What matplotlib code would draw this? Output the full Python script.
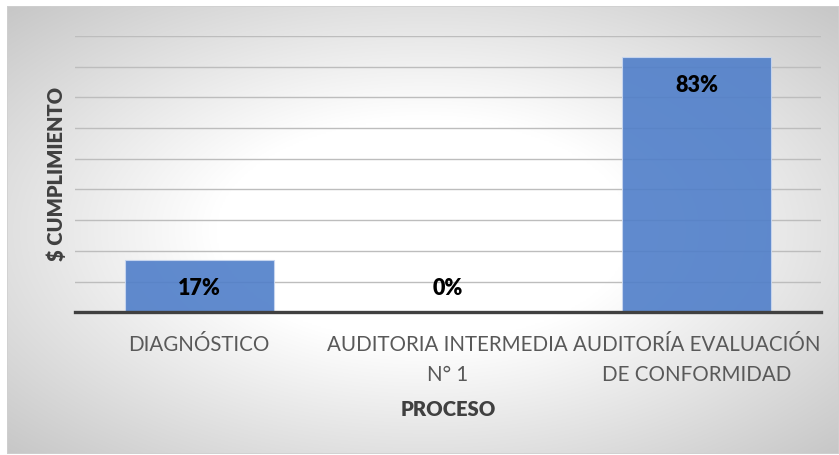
import numpy as np
import matplotlib
matplotlib.use("Agg")
import matplotlib.pyplot as plt
from matplotlib.patches import Rectangle

# Data
categories = ["DIAGNÓSTICO", "AUDITORIA INTERMEDIA\nN° 1", "AUDITORÍA EVALUACIÓN\nDE CONFORMIDAD"]
values = [0.17, 0.0, 0.83]
labels = ["17%", "0%", "83%"]

plt.rcParams['font.family'] = ['Lato', 'DejaVu Sans']

W, H, DPI = 839, 455, 100
fig = plt.figure(figsize=(W / DPI, H / DPI), dpi=DPI)
fig.patch.set_facecolor('white')

# Chart area with radial gradient
bg = fig.add_axes([7 / W, 1 / H, 1 - 7 / W, 448 / H])
bg.set_axis_off()
ny, nx = 300, 560
yy, xx = np.mgrid[0:ny, 0:nx]
d = np.sqrt(((xx - nx / 2) / (nx / 2)) ** 2 + ((yy - ny / 2) / (ny / 2)) ** 2)
shade = 1 - 0.22 * np.clip((d - 0.5) / 0.91, 0, 1)
bg.imshow(np.dstack([shade] * 3), aspect='auto', extent=[0, 1, 0, 1], interpolation='bilinear')
bg.add_patch(Rectangle((0, 0), 1, 1, transform=bg.transAxes, fill=False,
                       edgecolor='#d0d0d0', lw=1.2))
bg.set_xlim(0, 1)
bg.set_ylim(0, 1)

# Plot area
ax = fig.add_axes([75 / W, 142.7 / H, 745.7 / W, 276.4 / H])
ax.patch.set_alpha(0)
x = np.arange(len(categories))
ax.bar(x, values, width=0.6, color='#4f7ec9', alpha=0.9, edgecolor='#c9d7f0', lw=0.8, zorder=2)
ax.set_xlim(-0.5, len(categories) - 0.5)
ax.set_ylim(0, 0.9)
ax.set_yticks(np.arange(0.1, 0.91, 0.1))
ax.yaxis.grid(True, color='#bdbdbd', lw=1.0)
ax.set_axisbelow(True)
ax.tick_params(axis='y', left=False, labelleft=False)
for s in ['top', 'right', 'left']:
    ax.spines[s].set_visible(False)
ax.spines['bottom'].set_color('#404040')
ax.spines['bottom'].set_linewidth(2.4)
ax.spines['bottom'].set_zorder(3)

ax.set_xticks(x)
ax.set_xticklabels(categories, fontsize=14.8, color='#595959', linespacing=1.6)
ax.tick_params(axis='x', length=0, pad=16.5)

# Data labels (inside end)
for xi, v, lab in zip(x, values, labels):
    ypos = v - 0.092 if v > 0.1 else 0.079
    ax.text(xi, ypos, lab, ha='center', va='center', fontsize=15.5,
            fontweight='heavy', color='black', zorder=4)

# Axis titles
fig.text(56 / W, (H - 174) / H, "$ CUMPLIMIENTO", rotation=90, ha='center', va='center',
         fontsize=14.5, fontweight='heavy', color='#404040')
fig.text(448 / W, (H - 410) / H, "PROCESO", ha='center', va='center',
         fontsize=14.6, fontweight='heavy', color='#404040')

fig.savefig("out.png", dpi=DPI)
